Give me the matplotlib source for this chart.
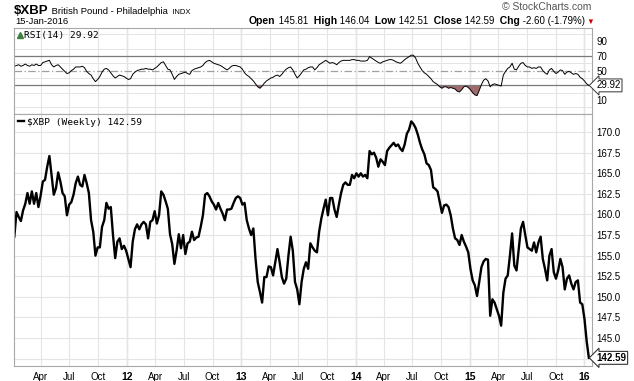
import matplotlib
matplotlib.use("Agg")
import matplotlib.pyplot as plt
import matplotlib.dates as mdates
from matplotlib.lines import Line2D
import pandas as pd

plt.rcParams["font.family"] = ["Liberation Sans", "DejaVu Sans"]

# weekly closes of $XBP, first week ending 2011-01-07
START = "2011-01-07"
close = [
    157.3, 160.3, 159.7, 159.2, 160.5, 161.3, 162.6, 161.3, 162.8, 161.3,
    162.6, 160.9, 162.3, 164.0, 164.2, 165.8, 167.1, 164.8, 162.4, 163.2,
    165.1, 164.0, 162.6, 162.2, 159.9, 161.2, 161.5, 162.4, 163.8, 164.6,
    163.6, 163.4, 164.8, 163.8, 162.6, 159.3, 157.9, 155.0, 156.0, 156.0,
    158.5, 159.3, 161.4, 160.7, 160.9, 157.5, 154.7, 156.7, 157.1, 155.8,
    156.2, 155.6, 154.6, 153.6, 156.7, 158.2, 158.8, 158.2, 158.8, 159.1,
    158.8, 157.1, 159.1, 159.3, 160.4, 158.9, 159.9, 162.8, 162.4, 161.6,
    160.7, 157.6, 156.4, 154.0, 155.6, 157.6, 155.9, 157.5, 155.2, 156.5,
    156.7, 157.9, 156.9, 157.2, 157.3, 158.5, 159.9, 162.4, 162.6, 162.2,
    161.6, 161.2, 160.6, 161.4, 160.7, 160.1, 159.3, 160.6, 160.6, 160.7,
    161.4, 162.0, 162.2, 162.0, 161.2, 161.4, 159.3, 158.3, 157.5, 158.3,
    154.6, 151.8, 150.6, 149.3, 152.4, 152.4, 153.7, 153.6, 152.6, 154.2,
    155.8, 154.2, 152.4, 151.6, 152.2, 155.0, 157.3, 155.6, 151.8, 150.9,
    149.1, 151.8, 153.4, 154.2, 153.4, 156.5, 156.0, 155.6, 155.4, 157.9,
    159.5, 160.7, 161.8, 159.9, 162.0, 162.0, 160.6, 159.7, 161.2, 162.6,
    163.6, 163.9, 163.6, 163.6, 164.8, 164.4, 165.0, 164.6, 165.0, 164.6,
    164.8, 164.4, 167.7, 167.3, 167.5, 166.9, 165.8, 166.7, 166.4, 166.0,
    167.7, 168.1, 168.4, 168.7, 168.3, 168.5, 168.0, 167.7, 168.5, 169.8,
    170.3, 171.3, 171.0, 170.5, 169.7, 168.7, 167.9, 167.3, 166.2, 166.0,
    165.4, 163.3, 163.1, 162.8, 161.5, 160.2, 161.1, 161.2, 160.9, 159.9,
    158.3, 157.1, 156.9, 156.3, 157.5, 156.7, 156.1, 155.4, 153.4, 152.0,
    151.4, 150.1, 151.8, 153.6, 154.3, 154.6, 154.5, 147.7, 149.7, 149.3,
    148.5, 147.7, 146.5, 150.5, 152.2, 152.6, 155.0, 157.7, 153.8, 153.2,
    155.8, 158.3, 159.1, 157.5, 156.0, 155.8, 155.6, 156.6, 155.4, 156.6,
    157.3, 154.6, 153.4, 152.0, 155.0, 155.8, 153.0, 152.2, 153.2, 154.6,
    153.6, 150.9, 152.2, 152.6, 151.6, 150.9, 151.8, 152.0, 149.3, 149.1,
    147.3, 144.6, 142.59,
]

# RSI(14), same weeks
rsi = [
    56, 57, 58, 56, 57, 59, 57, 56, 58, 57,
    59, 57, 57, 61, 62, 63, 64, 58, 55, 57,
    58, 55, 52, 49, 46, 47, 50, 52, 55, 55,
    55, 56, 54, 49, 46, 44, 39, 35, 38, 42,
    48, 52, 53, 51, 47, 43, 40, 42, 44, 43,
    42, 40, 38, 39, 45, 48, 50, 51, 52, 52,
    53, 52, 52, 51, 53, 55, 58, 61, 62, 57,
    52, 51, 45, 38, 42, 45, 46, 47, 48, 46,
    45, 50, 52, 53, 54, 55, 57, 61, 63, 64,
    62, 60, 59, 58, 57, 55, 53, 51, 53, 56,
    57, 57, 56, 55, 52, 47, 44, 42, 39, 36,
    32, 28, 26, 29, 33, 36, 38, 40, 41, 43,
    44, 42, 45, 49, 52, 54, 55, 51, 45, 40,
    43, 47, 51, 52, 54, 55, 55, 51, 54, 58,
    60, 62, 64, 62, 60, 61, 60, 58, 61, 63,
    64, 64, 64, 64, 65, 65, 64, 64, 63, 63,
    63, 64, 69, 67, 65, 63, 61, 60, 62, 63,
    64, 65, 65, 64, 62, 61, 60, 62, 65, 67,
    69, 71, 71, 67, 60, 55, 50, 47, 45, 42,
    39, 35, 33, 31, 28, 26, 28, 28, 26, 27,
    26, 25, 22, 21, 24, 28, 29, 27, 24, 20,
    17, 16, 23, 31, 37, 39, 36, 28, 31, 32,
    31, 30, 29, 44, 49, 53, 55, 60, 52, 51,
    56, 60, 61, 57, 55, 55, 53, 54, 53, 55,
    55, 50, 47, 45, 51, 53, 49, 46, 48, 51,
    50, 45, 48, 49, 47, 45, 46, 45, 41, 39,
    36, 32, 29.92,
]

price_ticks = [145.0, 147.5, 150.0, 152.5, 155.0, 157.5, 160.0, 162.5, 165.0, 167.5, 170.0]
rsi_ticks = [10, 50, 70, 90]

quote = [("Open", "145.81"), ("High", "146.04"), ("Low", "142.51"),
         ("Close", "142.59"), ("Chg", "-2.60 (-1.79%)")]

dates = pd.date_range(START, periods=len(close), freq="W-FRI")
close_s = pd.Series(close, index=dates)
rsi_s = pd.Series(rsi, index=dates, dtype=float)

W, H = 634, 381
fig = plt.figure(figsize=(W / 100, H / 100), dpi=100)


def px(x0, y0, x1, y1):
    return [x0 / W, 1 - y1 / H, (x1 - x0) / W, (y1 - y0) / H]


ax_r = fig.add_axes(px(14, 28, 592, 114))
ax = fig.add_axes(px(14, 114, 592, 366), sharex=ax_r)

grid_c = "#e4e4e4"
year_c = "#c8c8c8"
spine_c = "#a8a8a8"
mono = {"family": "DejaVu Sans Mono", "size": 6.8}

for a in (ax_r, ax):
    for s in a.spines.values():
        s.set_color(spine_c)
        s.set_linewidth(0.8)
    a.yaxis.tick_right()
    a.tick_params(axis="both", length=0, labelsize=7, pad=3)
    a.xaxis.set_major_locator(mdates.MonthLocator(bymonth=[1, 4, 7, 10]))
    a.grid(axis="x", color=grid_c, linewidth=0.8)
    a.set_axisbelow(True)

# year separators a touch darker
for yr in range(2012, 2017):
    for a in (ax_r, ax):
        a.axvline(pd.Timestamp(f"{yr}-01-01"), color=year_c, linewidth=0.9, zorder=0.5)

# ---- RSI panel ----
ax_r.set_ylim(-9, 108)
ax_r.set_yticks(rsi_ticks)
ax_r.set_yticklabels([str(t) for t in rsi_ticks])
ax_r.set_yticks(range(0, 101, 10), minor=True)
ax_r.tick_params(axis="y", which="minor", length=0)
ax_r.grid(axis="y", which="minor", color=grid_c, linewidth=0.7)
ax_r.axhline(70, color="#7a7a7a", linewidth=0.9)
ax_r.axhline(30, color="#7a7a7a", linewidth=0.9)
ax_r.axhline(50, color="#a0a0a0", linewidth=0.9, linestyle=(0, (6, 2, 1, 2)))
ax_r.fill_between(rsi_s.index, rsi_s.values, 30, where=rsi_s.values < 30,
                  interpolate=True, color="#a06a6a", linewidth=0)
ax_r.plot(rsi_s.index, rsi_s.values, color="black", linewidth=0.7)
plt.setp(ax_r.get_xticklabels(), visible=False)
rsi_handle = Line2D([], [], marker="^", color="#3f7f3f", markersize=5, linestyle="none")
ax_r.legend([rsi_handle], [f"RSI(14) {rsi[-1]:.2f}"], loc="upper left", frameon=False,
            prop=mono, handlelength=0.6, handletextpad=0.2, borderaxespad=0.1,
            borderpad=0.2)
ax_r.annotate(f"{rsi[-1]:.2f}", xy=(1, rsi[-1]), xycoords=("axes fraction", "data"),
              xytext=(3, 0), textcoords="offset points", va="center", ha="left",
              fontsize=7, annotation_clip=False,
              bbox=dict(boxstyle="larrow,pad=0.15", fc="white", ec="#333333", lw=0.7))

# ---- price panel ----
ax.set_ylim(141.6, 172.2)
ax.set_yticks(price_ticks)
ax.set_yticklabels([f"{t:.1f}" for t in price_ticks])
ax.set_yticks([142.5], minor=True)
ax.tick_params(axis="y", which="minor", length=0)
ax.grid(axis="y", which="both", color=grid_c, linewidth=0.8)
line, = ax.plot(close_s.index, close_s.values, color="black", linewidth=1.7,
                solid_joinstyle="round")
ax.legend([line], [f"$XBP (Weekly) {close[-1]:.2f}"], loc="upper left", frameon=False,
          prop=mono, handlelength=0.7, handletextpad=0.3, borderaxespad=0.1,
          borderpad=0.3)
ax.annotate(f"{close[-1]:.2f}", xy=(1, close[-1]), xycoords=("axes fraction", "data"),
            xytext=(3, 0), textcoords="offset points", va="center", ha="left",
            fontsize=7, fontweight="bold", annotation_clip=False,
            bbox=dict(boxstyle="larrow,pad=0.15", fc="white", ec="#333333", lw=0.8))

ax.set_xlim(pd.Timestamp("2011-01-06"), pd.Timestamp("2016-01-25"))


def qfmt(x, pos=None):
    d = mdates.num2date(x)
    return f"{d.year % 100:02d}" if d.month == 1 else d.strftime("%b")


ax.xaxis.set_major_formatter(plt.FuncFormatter(qfmt))
ax.tick_params(axis="x", pad=4)
fig.canvas.draw()
for lbl in ax.get_xticklabels():
    if lbl.get_text().isdigit():
        lbl.set_fontweight("bold")
        lbl.set_fontsize(7.5)


def after(prev, s, **kw):
    # place a text right after the previous one, sharing its baseline
    return ax_r.annotate(s, xy=(1, 0), xycoords=prev, va="bottom",
                         annotation_clip=False, **kw)


# ---- header ----
t = fig.text(14 / W, 1 - 13.5 / H, "$XBP", fontsize=9.5, fontweight="bold", va="baseline")
t = after(t, " British Pound - Philadelphia", fontsize=6.8)
after(t, "  INDX", fontsize=5.5)
fig.text(15 / W, 1 - 23.5 / H, "15-Jan-2016", fontsize=6.8, va="baseline")
fig.text(591 / W, 1 - 10 / H, "\u00a9 StockCharts.com", fontsize=7.5, color="#555555",
         ha="right", va="baseline")

prev = None
for label, val in quote:
    if prev is None:
        prev = fig.text(249 / W, 1 - 23.5 / H, label, fontsize=7.5, fontweight="bold",
                        va="baseline")
    else:
        prev = after(prev, "  " + label, fontsize=7.5, fontweight="bold")
    prev = after(prev, " " + val, fontsize=7)
after(prev, " \u25bc", fontsize=5.5, color="#cc0000")

fig.savefig("out.png", dpi=100)
